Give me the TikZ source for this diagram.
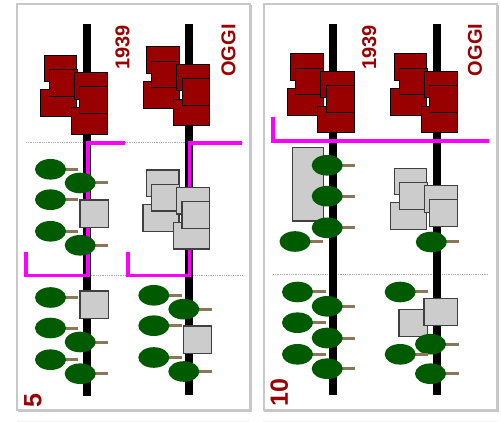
\documentclass[tikz,border=0pt]{standalone}
\usepackage{fontspec}
\newfontfamily\lab{Liberation Sans}
\definecolor{dred}{RGB}{153,0,0}
\definecolor{tgreen}{RGB}{0,90,0}
\definecolor{stalkc}{RGB}{140,118,90}
\definecolor{boxgray}{RGB}{204,204,204}
\definecolor{boxline}{RGB}{64,64,64}
\definecolor{mag}{RGB}{255,0,255}
\definecolor{frame}{RGB}{200,200,200}
\tikzset{
  redbox/.style={fill=dred,draw=black,line width=1pt},
  graybox/.style={fill=boxgray,draw=boxline,line width=1.3pt},
  stalk/.style={draw=stalkc,line width=3pt},
  treefill/.style={fill=tgreen},
  road/.style={fill=black},
  magline/.style={draw=mag,line width=3.7pt,line join=miter,line cap=butt},
  dotline/.style={draw=gray!70,line width=0.8pt,dash pattern=on 0.8pt off 1pt},
  panel/.style={draw=frame,line width=2pt},
  yr/.style={font=\lab\bfseries\fontsize{20}{24}\selectfont,text=dred,rotate=90,inner sep=0pt},
  num/.style={font=\lab\bfseries\fontsize{25}{30}\selectfont,text=dred,rotate=90,inner sep=0pt}
}
\newcommand\bx[7]{\draw[#1] ({#2+(#4)},{#3+(#5)}) rectangle ({#2+(#6)},{#3+(#7)});}
\newcommand\grpABCD[3]{\bx{#1}{#2}{#3}{-42.5}{55}{-10}{81.5}\bx{#1}{#2}{#3}{-46}{89.5}{-10}{116.5}\bx{#1}{#2}{#3}{-37.5}{69.5}{-9.5}{96}\bx{#1}{#2}{#3}{-12.5}{72.5}{20.8}{99}}
\newcommand\grpE[3]{\bx{#1}{#2}{#3}{-15.5}{107.5}{20.8}{134}}
\newcommand\grpF[3]{\bx{#1}{#2}{#3}{-7}{86.5}{20.8}{113.5}}
\newcommand\tree[3]{\draw[stalk] (#1,#2) -- (#3,#2); \fill[treefill] (#1,#2) ellipse [x radius=15.5, y radius=10.3];}
\begin{document}
\begin{tikzpicture}[x=1pt,y=-1pt]
\useasboundingbox (0,0) rectangle (501,422);
\fill[white] (0,0) rectangle (501,422);
% panels
\draw[panel] (17.3,4) rectangle (250,410);
\draw[panel] (263.5,4) rectangle (497,410);
\draw[draw=gray!45,line width=1pt] (18,411.3) -- (251.3,411.3) -- (251.3,5);
\draw[draw=gray!45,line width=1pt] (264,411.3) -- (498.3,411.3) -- (498.3,5);
\draw[draw=gray!12,line width=1pt] (17,421.5) -- (250,421.5);
\draw[draw=gray!12,line width=1pt] (263,421.5) -- (497,421.5);
% dotted lines
\draw[dotline] (26,142.3) -- (243,142.3);
\draw[dotline] (26,275.7) -- (243,275.7);
\draw[dotline] (273,274) -- (488,274);
% roads
\fill[road] (82.5,24) rectangle (90.5,396);
\fill[road] (185,24) rectangle (193,395);
\fill[road] (329.2,24) rectangle (337.2,395);
\fill[road] (432.8,24) rectangle (440.8,395);
% magenta
\draw[magline] (125,142.7) -- (88,142.7) -- (88,275.5) -- (26.2,275.5) -- (26.2,251.7);
\draw[magline] (241.7,142.7) -- (189.5,142.7) -- (189.5,275.5) -- (128.3,275.5) -- (128.3,251.7);
\draw[magline] (273.3,116.7) -- (273.3,140.8) -- (489.3,140.8);
% labels
\node[yr] (y1) at (122.5,47.5) {1939};
\node[yr] (o1) at (228.5,50.5) {OGGI};
\node[yr] (y2) at (369.2,47.5) {1939};
\node[yr] (o2) at (475,50) {OGGI};
\node[num] (n5) at (32.8,400.3) {5};
\node[num] (n10) at (279.2,392.8) {10};
% red houses
\grpABCD{redbox}{86.5}{0.5}\grpE{redbox}{86.5}{0.5}\grpF{redbox}{86.5}{0.5}
\grpABCD{redbox}{189}{-8.3}\grpE{redbox}{189}{-8.3}\grpF{redbox}{189}{-8.3}
\grpABCD{redbox}{333.2}{-1}\grpE{redbox}{333.2}{-1}\grpF{redbox}{333.2}{-1}
\grpABCD{redbox}{436.8}{-1}\grpE{redbox}{436.8}{-1}\grpF{redbox}{436.8}{-1}
% gray houses
\grpABCD{graybox}{189}{115}\grpE{graybox}{189}{115}\grpF{graybox}{189}{115}
\grpABCD{graybox}{436.8}{113.3}\grpF{graybox}{436.8}{113.3}
\draw[graybox] (80,200) rectangle (108.3,227.3);
\draw[graybox] (80,291) rectangle (108.3,318.7);
\draw[graybox] (183.3,326) rectangle (211.7,353.3);
\draw[graybox] (292.7,147.7) rectangle (323.3,221);
\draw[graybox] (399,309.3) rectangle (427.3,336.7);
\draw[graybox] (424,298.3) rectangle (457.3,325.7);
% trees panel 1 left road
\tree{50.5}{169.3}{78.3}
\tree{80.2}{183}{108.3}
\tree{50.5}{199.7}{78.3}
\tree{50.5}{231.3}{78.3}
\tree{80.2}{245.3}{108.3}
\tree{50.5}{297.5}{78.3}
\tree{50.5}{328}{78.3}
\tree{80.2}{342}{108.3}
\tree{50.5}{359.7}{78.3}
\tree{80.2}{373.7}{108.3}
% trees panel 1 right road
\tree{153.8}{295.3}{181.7}
\tree{183.8}{309.2}{211.7}
\tree{153.8}{325.7}{181.7}
\tree{153.8}{357.5}{181.7}
\tree{183.8}{371.5}{211.7}
% trees panel 2 left road
\tree{327.2}{165.3}{355}
\tree{327.2}{196.2}{355}
\tree{327.2}{227.8}{355}
\tree{295}{241.5}{323.3}
\tree{297.5}{292}{326}
\tree{327.2}{306.3}{355.3}
\tree{297.5}{322.7}{326}
\tree{327.2}{338}{355.3}
\tree{297.5}{354.3}{326}
\tree{327.2}{368.7}{355.3}
% trees panel 2 right road
\tree{431.3}{242}{459.3}
\tree{400.2}{292}{428.3}
\tree{430.5}{344.2}{458.7}
\tree{400.2}{354.3}{428.3}
\tree{430.5}{373.7}{458.7}
\end{tikzpicture}
\end{document}
